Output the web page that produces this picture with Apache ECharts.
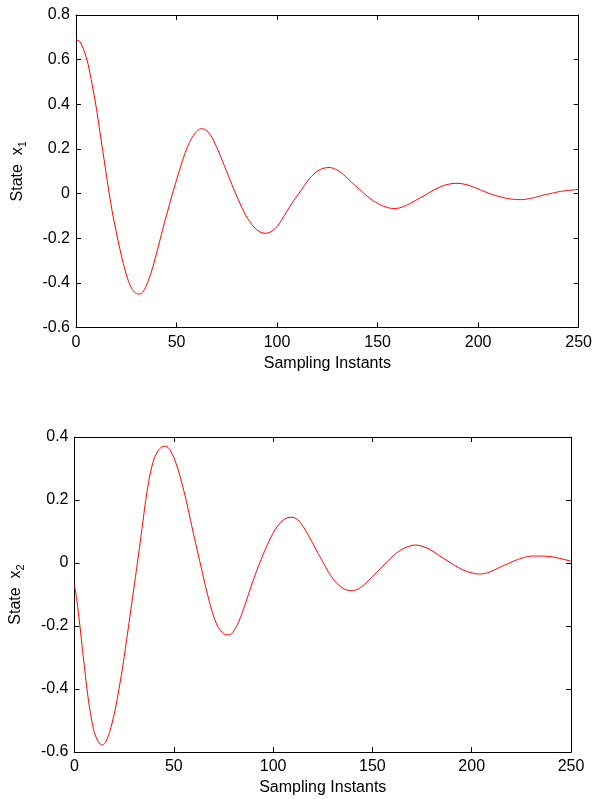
<!DOCTYPE html>
<html>
<head>
<meta charset="utf-8">
<script src="https://cdn.jsdelivr.net/npm/echarts@6/dist/echarts.min.js"></script>
<style>html,body{margin:0;padding:0;background:#fff;}#c{width:595px;height:799px;}</style>
</head>
<body>
<div id="c"></div>
<script>
// Sample indices and state values
const x1Samples = [0,2,4,6,8,10,12,14,16,18,20,22,24,26,28,30,32,34,36,38,40,42,44,46,48,50,52,54,56,58,60,62,64,66,68,70,72,74,76,78,80,82,84,86,88,90,92,94,96,98,100,102,104,106,108,110,112,114,116,118,120,122,124,126,128,130,132,134,136,138,140,142,144,146,148,150,152,154,156,158,160,162,164,166,168,170,172,174,176,178,180,182,184,186,188,190,192,194,196,198,200,202,204,206,208,210,212,214,216,218,220,222,224,226,228,230,232,234,236,238,240,242,244,246,248,250];
const x1Values = [0.69,0.68,0.64,0.58,0.49,0.39,0.27,0.15,0.03,-0.08,-0.17,-0.255,-0.33,-0.39,-0.43,-0.448,-0.45,-0.43,-0.39,-0.335,-0.27,-0.2,-0.13,-0.065,0.0,0.06,0.12,0.175,0.22,0.255,0.278,0.29,0.288,0.273,0.245,0.207,0.165,0.12,0.075,0.03,-0.012,-0.053,-0.09,-0.12,-0.145,-0.163,-0.174,-0.178,-0.175,-0.165,-0.148,-0.122,-0.093,-0.063,-0.035,-0.01,0.015,0.042,0.066,0.085,0.1,0.11,0.115,0.117,0.113,0.105,0.093,0.077,0.06,0.043,0.027,0.011,-0.005,-0.02,-0.033,-0.044,-0.053,-0.06,-0.065,-0.067,-0.066,-0.061,-0.054,-0.045,-0.035,-0.025,-0.015,-0.005,0.006,0.016,0.025,0.033,0.039,0.043,0.046,0.046,0.044,0.04,0.035,0.028,0.021,0.013,0.006,-0.001,-0.007,-0.012,-0.017,-0.021,-0.024,-0.026,-0.027,-0.027,-0.025,-0.022,-0.018,-0.013,-0.008,-0.004,0,0.004,0.008,0.011,0.013,0.015,0.017,0.019];
const x2Samples = [0,1,2,3,4,5,6,7,8,9,10,12,14,16,18,20,22,24,26,28,30,32,34,36,38,40,42,44,46,48,50,52,54,56,58,60,62,64,66,68,70,72,74,76,78,80,82,84,86,88,90,92,94,96,98,100,102,104,106,108,110,112,114,116,118,120,122,124,126,128,130,132,134,136,138,140,142,144,146,148,150,152,154,156,158,160,162,164,166,168,170,172,174,176,178,180,182,184,186,188,190,192,194,196,198,200,202,204,206,208,210,212,214,216,218,220,222,224,226,228,230,232,234,236,238,240,242,244,246,248,250];
const x2Values = [-0.07,-0.11,-0.16,-0.215,-0.275,-0.33,-0.385,-0.435,-0.475,-0.51,-0.538,-0.568,-0.578,-0.565,-0.53,-0.48,-0.415,-0.34,-0.255,-0.165,-0.075,0.015,0.11,0.205,0.28,0.33,0.356,0.369,0.371,0.36,0.335,0.3,0.255,0.205,0.148,0.09,0.035,-0.02,-0.075,-0.125,-0.168,-0.2,-0.218,-0.228,-0.228,-0.217,-0.196,-0.166,-0.13,-0.092,-0.055,-0.02,0.012,0.042,0.07,0.095,0.115,0.13,0.14,0.145,0.145,0.139,0.126,0.107,0.085,0.062,0.038,0.015,-0.008,-0.03,-0.049,-0.064,-0.075,-0.083,-0.087,-0.088,-0.085,-0.078,-0.068,-0.056,-0.044,-0.031,-0.018,-0.005,0.008,0.02,0.031,0.04,0.047,0.052,0.056,0.057,0.055,0.051,0.046,0.039,0.031,0.022,0.014,0.006,-0.002,-0.01,-0.017,-0.023,-0.028,-0.031,-0.034,-0.035,-0.034,-0.031,-0.026,-0.02,-0.014,-0.008,-0.003,0.003,0.008,0.013,0.017,0.02,0.022,0.022,0.022,0.022,0.021,0.02,0.018,0.015,0.012,0.009,0.006];
const xTicks = {min: 0, max: 250, interval: 50};
const y1Ticks = {min: -0.6, max: 0.8, interval: 0.2};
const y2Ticks = {min: -0.6, max: 0.4, interval: 0.2};
const xLabel = 'Sampling Instants';

const FONT = 'Liberation Sans, Arial, sans-serif';
const chart = echarts.init(document.getElementById('c'), null, {renderer: 'canvas'});
const axLine = {show: true, onZero: false, lineStyle: {color: '#000', width: 1}};
const tick = {show: true, inside: true, length: 5, lineStyle: {color: '#000', width: 1}};
const lbl = {color: '#000', fontSize: 16, fontFamily: FONT};

function xAxes(gi) {
  return [
    {type: 'value', gridIndex: gi, position: 'bottom', min: xTicks.min, max: xTicks.max, interval: xTicks.interval,
     axisLine: axLine, axisTick: tick, axisLabel: Object.assign({margin: 7}, lbl), splitLine: {show: false},
     name: xLabel, nameLocation: 'middle', nameGap: 28, nameTextStyle: {color: '#000', fontSize: 16, fontFamily: FONT}},
    {type: 'value', gridIndex: gi, position: 'top', min: xTicks.min, max: xTicks.max, interval: xTicks.interval,
     axisLine: axLine, axisTick: tick, axisLabel: {show: false}, splitLine: {show: false}}
  ];
}
function yAxes(gi, t, sub) {
  return [
    {type: 'value', gridIndex: gi, position: 'left', min: t.min, max: t.max, interval: t.interval,
     axisLine: axLine, axisTick: tick, axisLabel: Object.assign({margin: 6}, lbl), splitLine: {show: false},
     name: '{m|State  x}{s|' + sub + '}', nameLocation: 'middle', nameGap: 48, nameRotate: 90,
     nameTextStyle: {color: '#000', fontSize: 16, fontFamily: FONT,
       rich: {m: {fontSize: 16, fontFamily: FONT, color: '#000'},
              s: {fontSize: 11, fontFamily: FONT, color: '#000', padding: [10, 0, 0, 0]}}}},
    {type: 'value', gridIndex: gi, position: 'right', min: t.min, max: t.max, interval: t.interval,
     axisLine: axLine, axisTick: tick, axisLabel: {show: false}, splitLine: {show: false}}
  ];
}

const option = {
  animation: false,
  backgroundColor: '#fff',
  grid: [
    {left: 76, top: 15, width: 503, height: 312.5},
    {left: 74, top: 437, width: 497, height: 315}
  ],
  xAxis: [].concat(xAxes(0), xAxes(1)),
  yAxis: [].concat(yAxes(0, y1Ticks, '1'), yAxes(1, y2Ticks, '2')),
  series: [
    {type: 'line', xAxisIndex: 0, yAxisIndex: 0, showSymbol: false, smooth: 0.25,
     lineStyle: {color: '#ff0000', width: 1}, data: x1Samples.map((s, i) => [s, x1Values[i]])},
    {type: 'line', xAxisIndex: 2, yAxisIndex: 2, showSymbol: false, smooth: 0.25,
     lineStyle: {color: '#ff0000', width: 1}, data: x2Samples.map((s, i) => [s, x2Values[i]])}
  ]
};
chart.setOption(option);
</script>
</body>
</html>
